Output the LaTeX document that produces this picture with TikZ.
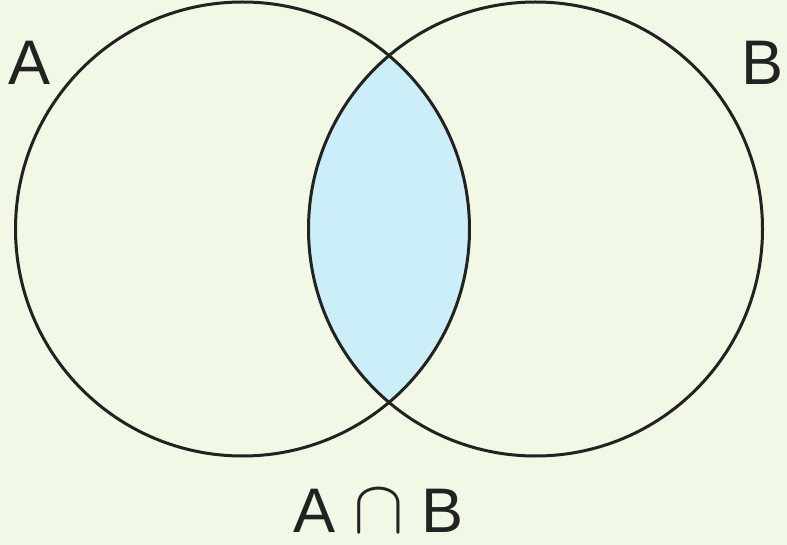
\RequirePackage{fix-cm}
\documentclass[tikz,border=0pt]{standalone}
\usepackage{fontspec}
\setmainfont{Liberation Sans}
\usetikzlibrary{positioning}
\definecolor{paper}{HTML}{F1F8E5}
\definecolor{lens}{HTML}{CCEEF8}
\definecolor{ring}{HTML}{222222}
\newcommand{\capsym}{{\fontsize{76}{80}\selectfont$\cap$}}
\tikzset{
  setlabel/.style={font=\fontsize{63}{70}\selectfont, text=ring, inner sep=0pt},
}

\begin{document}
\begin{tikzpicture}[x=1pt, y=-1pt, line width=3pt]
  \fill[paper] (0,0) rectangle (787,545);
  \useasboundingbox (0,0) rectangle (787,545);
  \coordinate (ca) at (242.5,229);
  \coordinate (cb) at (535.5,229);
  % shaded overlap
  \begin{scope}
    \clip (ca) circle[radius=227];
    \fill[lens] (cb) circle[radius=227];
  \end{scope}
  \draw[ring] (ca) circle[radius=227];
  \draw[ring] (cb) circle[radius=227];
  \node[setlabel] (la) at (30,62.5) {A};
  \node[setlabel] (lb) at (763,62.5) {B};
  \node[setlabel] (lab) at (378.5,511) {A \capsym{} B};
\end{tikzpicture}
\end{document}
